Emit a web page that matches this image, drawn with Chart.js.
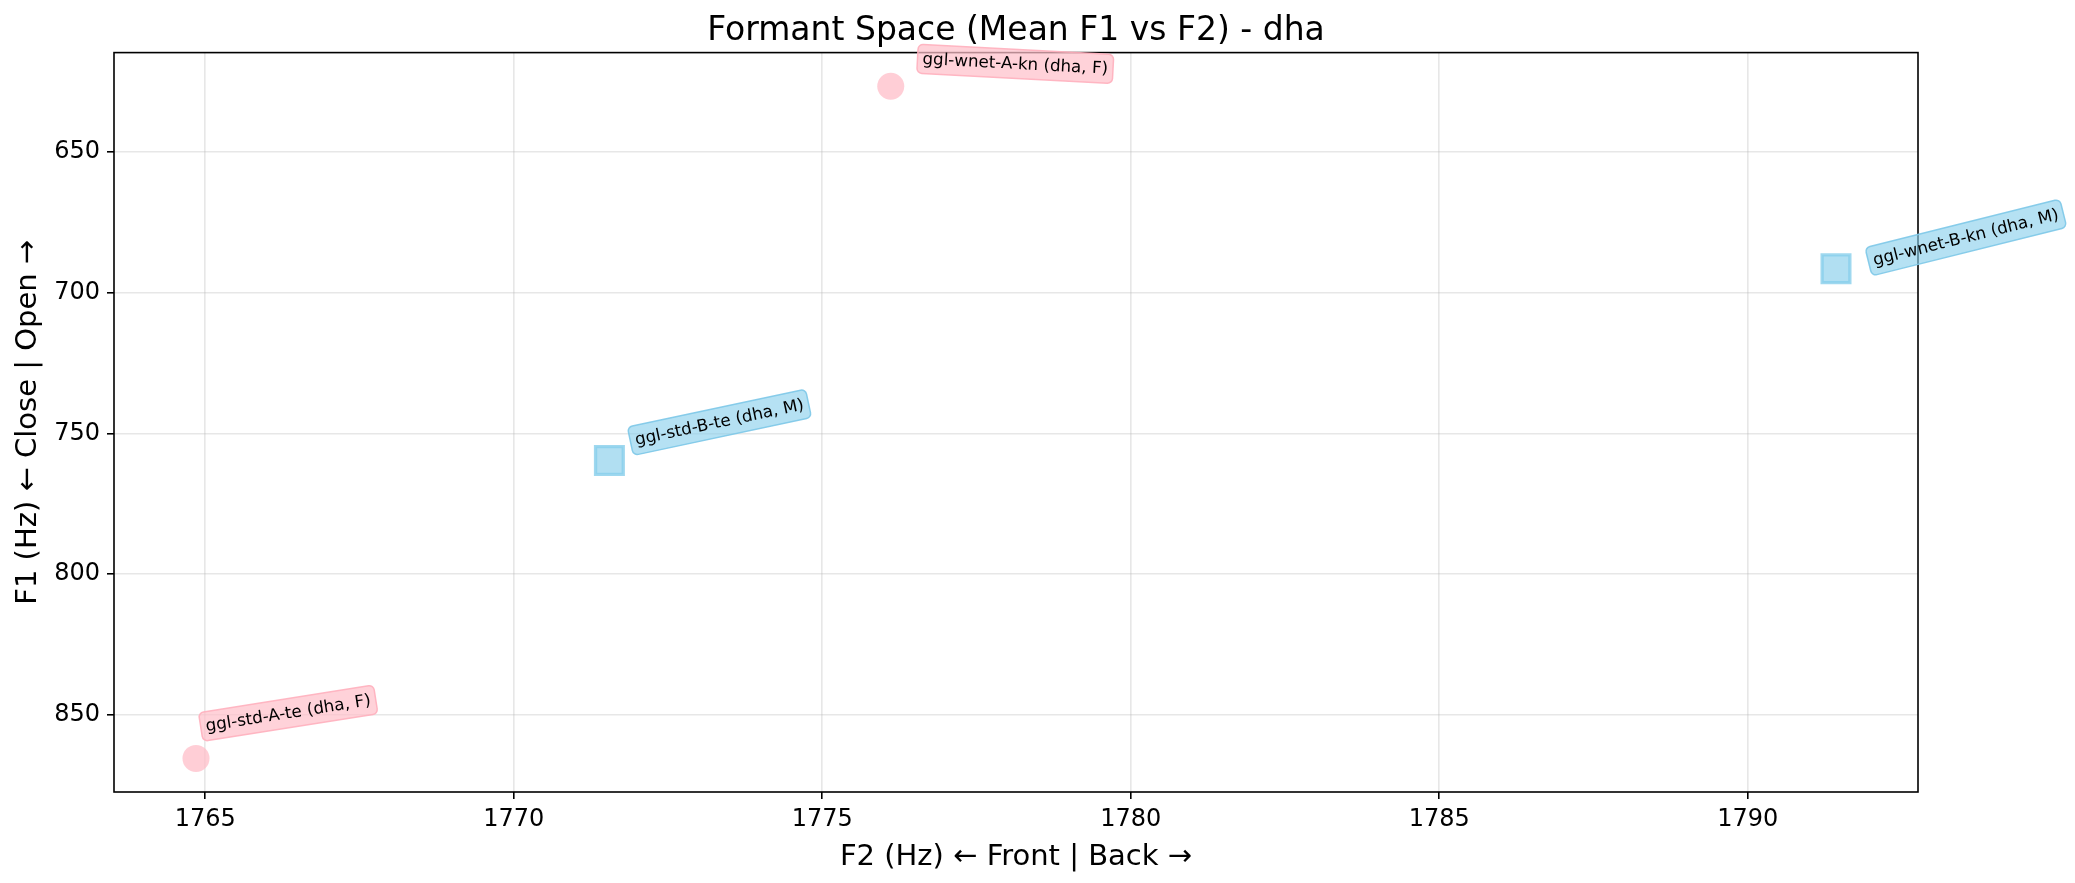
<!DOCTYPE html>
<html>
<head>
<meta charset="utf-8">
<script src="https://cdn.jsdelivr.net/npm/chart.js@4/dist/chart.umd.min.js"></script>
<style>
  body { margin: 0; background: #fff; }
</style>
</head>
<body>
<canvas id="formantChart" width="2075" height="883"></canvas>
<script>
// values
const speakers = ['ggl-std-A-te', 'ggl-std-B-te', 'ggl-wnet-A-kn', 'ggl-wnet-B-kn'];
const genders = ['F', 'M', 'F', 'M'];
const f2Means = [1764.85, 1771.55, 1776.11, 1791.43];
const f1Means = [865.5, 759.6, 626.6, 691.5];
const vowel = 'dha';
const xTicks = [1765, 1770, 1775, 1780, 1785, 1790];
const yTicks = [650, 700, 750, 800, 850];

// label look: rotation (deg) and offset of box corner from the point (px)
const labelAngles = [9, 12, -3, 14];
const labelOffsets = [[7, -17], [24, -5], [26, -13], [36, 7]];

const FONT = "'DejaVu Sans', sans-serif";

// matplotlib-style 5% margins
const xMin = Math.min(...f2Means), xMax = Math.max(...f2Means);
const yMin = Math.min(...f1Means), yMax = Math.max(...f1Means);
const xPad = (xMax - xMin) * 0.05, yPad = (yMax - yMin) * 0.05;

function pointsFor(g) {
    const pts = [];
    for (let i = 0; i < speakers.length; i++) {
        if (genders[i] === g) pts.push({ x: f2Means[i], y: f1Means[i], idx: i });
    }
    return pts;
}

const framePlugin = {
    id: 'frame',
    beforeDatasetsDraw(chart) {
        const { ctx, chartArea } = chart;
        ctx.save();
        ctx.strokeStyle = '#000';
        ctx.lineWidth = 1.6;
        ctx.strokeRect(chartArea.left, chartArea.top, chartArea.right - chartArea.left, chartArea.bottom - chartArea.top);
        ctx.restore();
    }
};

const labelPlugin = {
    id: 'pointLabels',
    afterDatasetsDraw(chart) {
        const ctx = chart.ctx;
        const xs = chart.scales.x, ys = chart.scales.y;
        ctx.save();
        ctx.font = '16.7px ' + FONT;
        for (let i = 0; i < speakers.length; i++) {
            const px = xs.getPixelForValue(f2Means[i]);
            const py = ys.getPixelForValue(f1Means[i]);
            const text = `${speakers[i]} (${vowel}, ${genders[i]})`;
            const pad = 5;
            const w = ctx.measureText(text).width + pad * 2;
            const h = 29;
            ctx.save();
            ctx.translate(px + labelOffsets[i][0], py + labelOffsets[i][1]);
            ctx.rotate(-labelAngles[i] * Math.PI / 180);
            ctx.beginPath();
            ctx.roundRect(0, -h, w, h, 5);
            if (genders[i] === 'F') {
                ctx.fillStyle = 'rgba(255,192,203,0.72)';
                ctx.strokeStyle = 'rgba(255,176,190,0.9)';
            } else {
                ctx.fillStyle = 'rgba(135,206,235,0.62)';
                ctx.strokeStyle = 'rgba(125,200,232,0.9)';
            }
            ctx.fill();
            ctx.lineWidth = 1.5;
            ctx.stroke();
            ctx.fillStyle = '#000';
            ctx.textBaseline = 'alphabetic';
            ctx.fillText(text, pad, -pad - 4.5);
            ctx.restore();
        }
        ctx.restore();
    }
};

const ctx = document.getElementById('formantChart').getContext('2d');
new Chart(ctx, {
    type: 'scatter',
    data: {
        datasets: [
            {
                label: 'F',
                data: pointsFor('F'),
                pointStyle: 'circle',
                pointRadius: 13.5,
                backgroundColor: 'rgba(255,192,203,0.78)',
                borderColor: 'rgba(255,192,203,0)',
                borderWidth: 0
            },
            {
                label: 'M',
                data: pointsFor('M'),
                pointStyle: 'rect',
                pointRadius: 19.6,
                backgroundColor: 'rgba(135,206,235,0.65)',
                borderColor: 'rgba(135,206,235,0.8)',
                borderWidth: 3.3
            }
        ]
    },
    options: {
        responsive: false,
        animation: false,
        devicePixelRatio: 1,
        layout: { padding: { top: 0, right: 157, bottom: 0, left: 0 } },
        plugins: {
            legend: { display: false },
            tooltip: { enabled: false },
            title: {
                display: true,
                fullSize: false,
                text: `Formant Space (Mean F1 vs F2) - ${vowel}`,
                color: '#000',
                font: { family: FONT, size: 33, weight: 'normal' },
                padding: { top: 12, bottom: 1 }
            }
        },
        scales: {
            x: {
                type: 'linear',
                min: xMin - xPad,
                max: xMax + xPad,
                afterBuildTicks(scale) { scale.ticks = xTicks.map(v => ({ value: v })); },
                afterFit(scale) { scale.height = 91; },
                grid: {
                    color: 'rgba(176,176,176,0.3)',
                    lineWidth: 1.6,
                    tickColor: '#000',
                    tickWidth: 1.6,
                    tickLength: 7
                },
                border: { display: false },
                ticks: {
                    color: '#000',
                    padding: 6,
                    font: { family: FONT, size: 24 },
                    callback: v => String(v)
                },
                title: {
                    display: true,
                    text: 'F2 (Hz) ← Front | Back →',
                    color: '#000',
                    font: { family: FONT, size: 29 },
                    padding: { top: 0, bottom: 8 }
                }
            },
            y: {
                type: 'linear',
                reverse: true,
                min: yMin - yPad,
                max: yMax + yPad,
                afterBuildTicks(scale) { scale.ticks = yTicks.map(v => ({ value: v })); },
                afterFit(scale) { scale.width = 114; },
                grid: {
                    color: 'rgba(176,176,176,0.3)',
                    lineWidth: 1.6,
                    tickColor: '#000',
                    tickWidth: 1.6,
                    tickLength: 7
                },
                border: { display: false },
                ticks: {
                    color: '#000',
                    padding: 7,
                    font: { family: FONT, size: 24 },
                    callback: v => String(v)
                },
                title: {
                    display: true,
                    text: 'F1 (Hz) ← Close | Open →',
                    color: '#000',
                    font: { family: FONT, size: 29 },
                    padding: { top: 11, bottom: 0 }
                }
            }
        }
    },
    plugins: [framePlugin, labelPlugin]
});
</script>
</body>
</html>
